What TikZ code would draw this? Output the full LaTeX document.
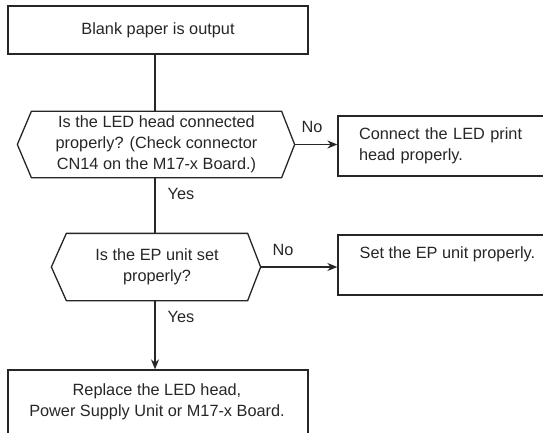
\documentclass[tikz,border=0pt]{standalone}
\usepackage{fontspec}
\setmainfont{Liberation Sans}
\usetikzlibrary{arrows.meta}
\begin{document}
\begin{tikzpicture}[x=1pt,y=-1pt,
  line width=1.3pt, draw=black!85,
  txt/.style={font=\fontsize{16.3}{21}\selectfont, text=black!85, inner sep=0pt},
  box/.style={draw, rectangle, inner sep=0pt},
  dec/.style={rectangle, inner sep=0pt, align=center, font=\fontsize{16.3}{21}\selectfont, text=black!85},
  arr/.style={-{Stealth[length=10pt,width=8pt]}}]
\useasboundingbox (0,0) rectangle (543,433);
\clip (0,0) rectangle (543,433);
\coordinate (spine) at (155,0);

% top box
\node[box, minimum width=300, minimum height=48, txt] (top) at (158,30) {Blank paper is output};

% decision 1
\node[dec, minimum width=249, minimum height=65] (d1) at (156.5,144.5)
  {Is the LED head connected\\properly? (Check connector\\CN14 on the M17-x Board.)};
\coordinate (d1r) at ([xshift=13]d1.east);
\coordinate (d1l) at ([xshift=-14]d1.west);
\draw (d1.north west) -- (d1.north east) -- (d1r) -- (d1.south east)
  -- (d1.south west) -- (d1l) -- cycle;

% box 1
\node[box, minimum width=222, minimum height=60, text width=180, inner xsep=21pt, align=left, txt] (b1) at (449,146)
  {Connect the LED print\\head properly.};

% decision 2
\node[dec, minimum width=180, minimum height=66] (d2) at (157,267)
  {Is the EP unit set\\properly?};
\coordinate (d2r) at ([xshift=13]d2.east);
\coordinate (d2l) at ([xshift=-15]d2.west);
\draw (d2.north west) -- (d2.north east) -- (d2r) -- (d2.south east)
  -- (d2.south west) -- (d2l) -- cycle;

% box 2
\node[box, minimum width=222, minimum height=60] (b2) at (449,265) {};
\node[txt, anchor=base west] (b2t) at (359,258) {Set the EP unit properly.};

% bottom box
\node[box, minimum width=300, minimum height=90] (bot) at (158,415) {};
\node[txt, align=center] (bott) at (157,402) {Replace the LED head,\\Power Supply Unit or M17-x Board.};

% connectors
\draw (top.south -| spine) -- (d1.north -| spine);
\draw (d1.south -| spine) -- (d2.north -| spine);
\draw[arr] (d2.south -| spine) -- (bot.north -| spine);
\draw[arr] (d1r) -- (d1r -| b1.west);
\draw[arr] (d2r) -- (d2r -| b2.west);

% labels
\node[txt] (no1) at (312,127) {No};
\node[txt] (no2) at (283,250) {No};
\node[txt] (yes1) at (181,194) {Yes};
\node[txt] (yes2) at (181,317) {Yes};
\end{tikzpicture}
\end{document}
